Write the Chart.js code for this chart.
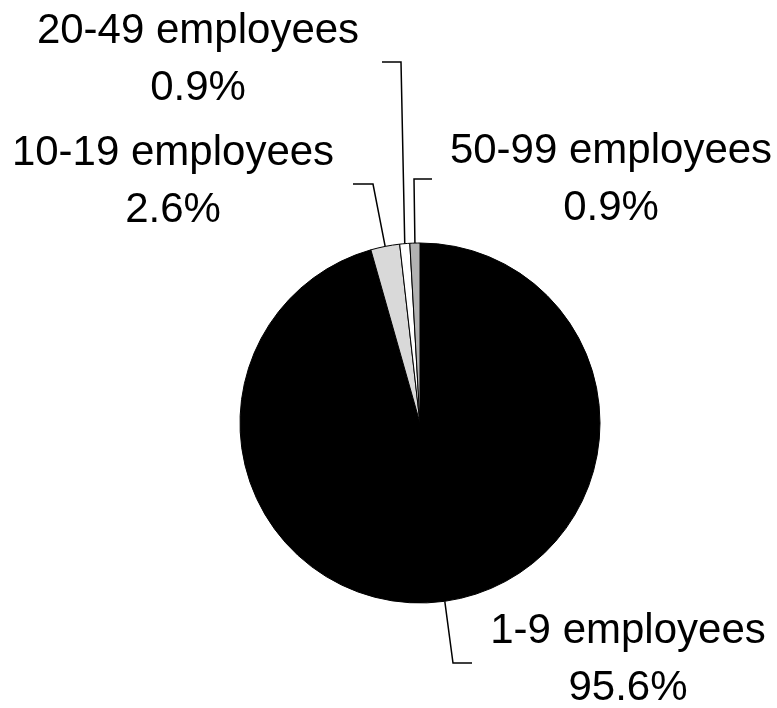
<!DOCTYPE html>
<html>
<head>
<meta charset="utf-8">
<script src="https://cdn.jsdelivr.net/npm/chart.js@4/dist/chart.umd.min.js"></script>
<style>
  html, body { margin: 0; padding: 0; background: #ffffff; }
  #wrap { width: 777px; height: 708px; }
</style>
</head>
<body>
<div id="wrap"><canvas id="c" width="777" height="708"></canvas></div>
<script>
const categories = ['1-9 employees', '10-19 employees', '20-49 employees', '50-99 employees'];
const shares = [95.6, 2.6, 0.9, 0.9];
const sliceColors = ['#000000', '#d9d9d9', '#ffffff', '#b2b2b2'];

// label layout: elbow point, end point of leader, text centre x, first baseline
const labelLayout = [
  { elbow: [453, 663], end: [472, 663], tx: 628, ty: 643 },
  { elbow: [373, 184], end: [353, 184], tx: 173, ty: 165 },
  { elbow: [401, 62],  end: [382, 62],  tx: 198, ty: 43 },
  { elbow: [414, 179], end: [432, 179], tx: 611, ty: 163 }
];

const labelPlugin = {
  id: 'leaderLabels',
  afterDatasetsDraw(chart) {
    const ctx = chart.ctx;
    const meta = chart.getDatasetMeta(0);
    ctx.save();
    meta.data.forEach((arc, i) => {
      const p = arc.getProps(['x', 'y', 'startAngle', 'endAngle', 'outerRadius'], true);
      const mid = (p.startAngle + p.endAngle) / 2;
      const sx = p.x + Math.cos(mid) * p.outerRadius;
      const sy = p.y + Math.sin(mid) * p.outerRadius;
      const L = labelLayout[i];
      ctx.beginPath();
      ctx.strokeStyle = '#000000';
      ctx.lineWidth = 1.5;
      ctx.moveTo(sx, sy);
      ctx.lineTo(L.elbow[0], L.elbow[1]);
      ctx.lineTo(L.end[0], L.end[1]);
      ctx.stroke();
      ctx.fillStyle = '#000000';
      ctx.font = '42px "Liberation Sans", Arial, sans-serif';
      ctx.textAlign = 'center';
      ctx.textBaseline = 'alphabetic';
      ctx.fillText(categories[i], L.tx, L.ty);
      ctx.fillText(shares[i].toFixed(1) + '%', L.tx, L.ty + 57);
    });
    ctx.restore();
  }
};

new Chart(document.getElementById('c'), {
  type: 'pie',
  data: {
    labels: categories,
    datasets: [{
      data: shares,
      backgroundColor: sliceColors,
      borderColor: '#000000',
      borderWidth: 1
    }]
  },
  options: {
    responsive: false,
    animation: false,
    radius: 180,
    layout: { padding: { left: 240, right: 177, top: 243, bottom: 105 } },
    plugins: {
      legend: { display: false },
      tooltip: { enabled: false }
    }
  },
  plugins: [labelPlugin]
});
</script>
</body>
</html>
